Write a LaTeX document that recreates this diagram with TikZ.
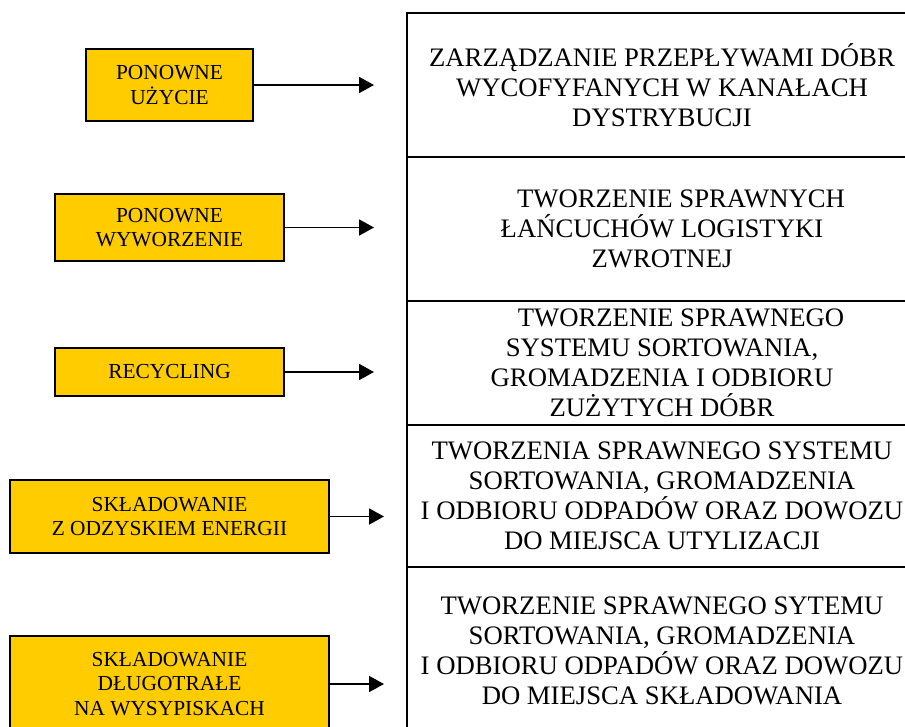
\documentclass[tikz,border=0pt]{standalone}
\usepackage{fontspec}
\setmainfont{Liberation Serif}
\usetikzlibrary{positioning, arrows.meta}
\definecolor{boxyellow}{HTML}{FFCC00}

\begin{document}
\begin{tikzpicture}[x=1pt, y=-1pt]
	\tikzset{
		action/.style={draw=black, line width=1.9pt, fill=boxyellow, align=center, inner sep=0pt, font=\fontsize{21.4}{24.7}\selectfont},
		task/.style={draw=black, line width=1.9pt, align=center, inner sep=0pt, outer sep=0pt, minimum width=510pt, anchor=north west, font=\fontsize{26.7}{30}\selectfont},
		with arrow/.style={line width=1.9pt, -{Triangle[length=15pt, width=16pt]}}
	}
	\useasboundingbox (0,0) rectangle (905,726);
	\clip (0,0) rectangle (905,726);
	
	% kolumna prawa
	\node[task, minimum height=144pt] (p1) at (407,13) {ZARZĄDZANIE PRZEPŁYWAMI DÓBR\\WYCOFYFANYCH W KANAŁACH\\DYSTRYBUCJI};
	\node[task, minimum height=144pt] (p2) at (407,157) {\hspace*{38pt}TWORZENIE SPRAWNYCH\\ŁAŃCUCHÓW LOGISTYKI\\ZWROTNEJ};
	\node[task, minimum height=124pt] (p3) at (407,301) {\hspace*{38pt}TWORZENIE SPRAWNEGO\\SYSTEMU SORTOWANIA,\\GROMADZENIA I ODBIORU\\ZUŻYTYCH DÓBR};
	\node[task, minimum height=142pt] (p4) at (407,425) {TWORZENIA SPRAWNEGO SYSTEMU\\SORTOWANIA, GROMADZENIA\\I ODBIORU ODPADÓW ORAZ DOWOZU\\DO MIEJSCA UTYLIZACJI};
	\node[task, minimum height=168pt] (p5) at (407,567) {TWORZENIE SPRAWNEGO SYTEMU\\SORTOWANIA, GROMADZENIA\\I ODBIORU ODPADÓW ORAZ DOWOZU\\DO MIEJSCA SKŁADOWANIA};
	
	% kolumna lewa
	\node[action, minimum width=167pt, minimum height=72pt] (b1) at (169.5,85) {PONOWNE\\UŻYCIE};
	\node[action, minimum width=229pt, minimum height=67pt] (b2) at (169.5,227.5) {PONOWNE\\WYWORZENIE};
	\node[action, minimum width=229pt, minimum height=48pt] (b3) at (169.5,372) {RECYCLING};
	\node[action, minimum width=319pt, minimum height=73pt] (b4) at (169.5,516.5) {SKŁADOWANIE\\Z ODZYSKIEM ENERGII};
	\node[action, minimum width=319pt, minimum height=96pt] (b5) at (169.5,684) {SKŁADOWANIE\\DŁUGOTRAŁE\\NA WYSYPISKACH};
	
	% końce strzałek
	\coordinate (e1) at (374,0);
	\coordinate (e2) at (374,0);
	\coordinate (e3) at (374,0);
	\coordinate (e4) at (384,0);
	\coordinate (e5) at (384,0);
	
	\foreach \i in {1,...,5} {
		\draw[with arrow] (b\i.east) -- (b\i.east -| e\i);
	}
\end{tikzpicture}
\end{document}
